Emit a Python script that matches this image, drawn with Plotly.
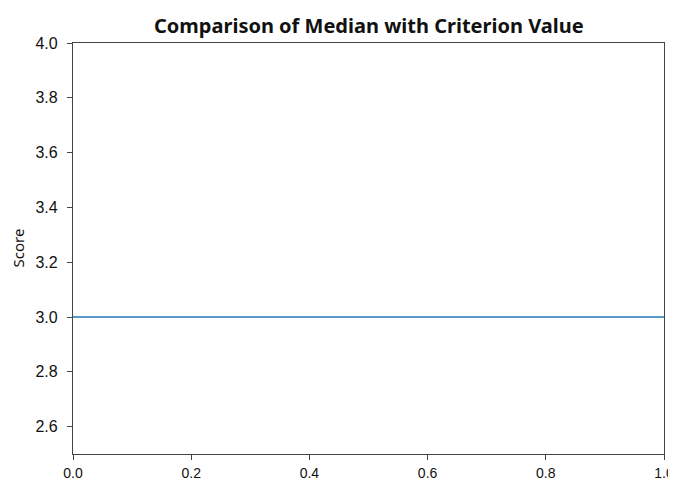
import plotly.graph_objects as go

# Data
x_span = [0.0, 1.0]
criterion_value = 3.0
x_ticks = [0.0, 0.2, 0.4, 0.6, 0.8, 1.0]
y_ticks = [2.6, 2.8, 3.0, 3.2, 3.4, 3.6, 3.8, 4.0]

# page body has an 8px margin, so the figure is drawn 8px in from the window corner
OFF = 8
W, H = 676 - OFF, 481 - OFF
L, R, T, B = 73 - OFF, 664 - OFF, 43 - OFF, 454 - OFF

fig = go.Figure()
fig.add_trace(go.Scatter(
    x=x_span, y=[criterion_value] * len(x_span), mode="lines",
    line=dict(color="#1f77b4", width=1.5), showlegend=False, hoverinfo="skip"))

axis_common = dict(
    showgrid=False, zeroline=False, showline=True, linecolor="#444444", linewidth=1.3,
    mirror=True, ticks="outside", ticklen=5, tickwidth=1.2, tickcolor="#444444",
    automargin=False,
)
fig.update_xaxes(range=[0, 1], tickvals=x_ticks, ticktext=[f"{v:.1f}" for v in x_ticks],
                 ticklabelstandoff=1, ticklabeloverflow="allow",
                 tickfont=dict(family="Liberation Sans", size=14, color="#111111"), **axis_common)
fig.update_yaxes(range=[2.5, 4.0], tickvals=y_ticks, ticktext=[f"{v:.1f}" for v in y_ticks],
                 ticklabelstandoff=6,
                 tickfont=dict(family="Liberation Sans", size=16, color="#111111"), **axis_common)

fig.update_layout(
    width=W, height=H,
    margin=dict(l=L, r=W - R, t=T, b=H - B),
    paper_bgcolor="white", plot_bgcolor="white",
    annotations=[
        dict(text="<b>Comparison of Median with Criterion Value</b>", xref="paper", yref="paper",
             x=0.5, y=1 + 18 / (B - T), xanchor="center", yanchor="middle", showarrow=False,
             font=dict(family="Noto Sans", size=20, color="#111111")),
        dict(text="Score", xref="paper", yref="paper", textangle=-90,
             x=-56 / (R - L), y=0.5, xanchor="center", yanchor="middle", showarrow=False,
             font=dict(family="Noto Sans", size=15, color="#111111")),
    ],
)

fig.write_html("out.html")
